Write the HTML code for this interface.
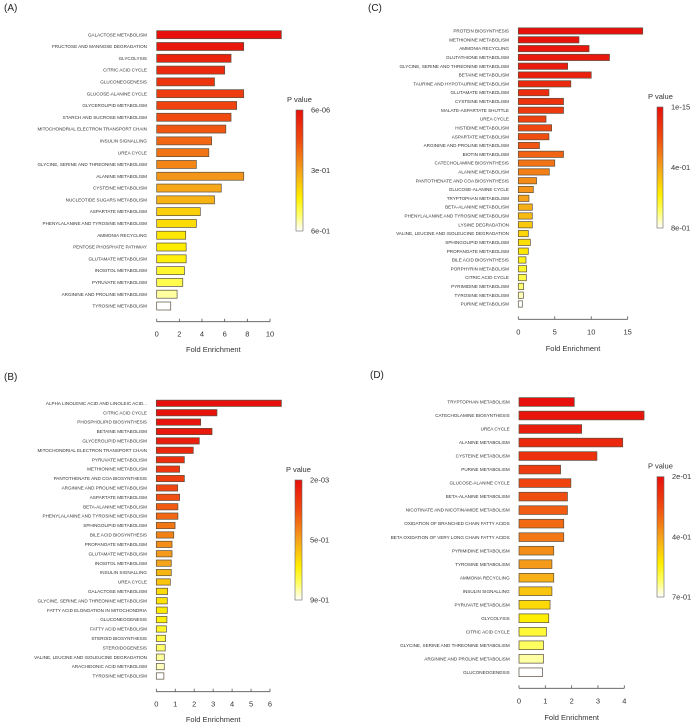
<!DOCTYPE html>
<html><head><meta charset="utf-8">
<style>
html,body{margin:0;padding:0;background:#fff;}
svg{display:block;font-family:"Liberation Sans",Arial,sans-serif;}
</style></head>
<body>
<svg id="chart" width="700" height="724" viewBox="0 0 700 724" xmlns="http://www.w3.org/2000/svg">
<defs>
<linearGradient id="heat" x1="0" y1="0" x2="0" y2="1">
<stop offset="0" stop-color="#e8100c"/><stop offset="0.25" stop-color="#f04a10"/><stop offset="0.5" stop-color="#f5a21a"/><stop offset="0.72" stop-color="#ffee00"/><stop offset="0.86" stop-color="#ffff60"/><stop offset="1" stop-color="#ffffff"/>
</linearGradient>
</defs>
</svg>
<script>
// ---- Panel A data ----
const catsA = ["GALACTOSE METABOLISM","FRUCTOSE AND MANNOSE DEGRADATION","GLYCOLYSIS","CITRIC ACID CYCLE","GLUCONEOGENESIS","GLUCOSE-ALANINE CYCLE","GLYCEROLIPID METABOLISM","STARCH AND SUCROSE METABOLISM","MITOCHONDRIAL ELECTRON TRANSPORT CHAIN","INSULIN SIGNALLING","UREA CYCLE","GLYCINE, SERINE AND THREONINE METABOLISM","ALANINE METABOLISM","CYSTEINE METABOLISM","NUCLEOTIDE SUGARS METABOLISM","ASPARTATE METABOLISM","PHENYLALANINE AND TYROSINE METABOLISM","AMMONIA RECYCLING","PENTOSE PHOSPHATE PATHWAY","GLUTAMATE METABOLISM","INOSITOL METABOLISM","PYRUVATE METABOLISM","ARGININE AND PROLINE METABOLISM","TYROSINE METABOLISM"];
const valsA = [11.0,7.68,6.56,6.0,5.1,7.68,7.06,6.56,6.1,4.85,4.6,3.5,7.68,5.7,5.1,3.85,3.5,2.56,2.6,2.6,2.45,2.3,1.8,1.24];
const pvalsA = [0.00001,0.02,0.05,0.07,0.09,0.11,0.13,0.15,0.17,0.2,0.22,0.25,0.28,0.31,0.33,0.38,0.4,0.42,0.43,0.44,0.47,0.5,0.55,0.6];
const ticksA = [0,2,4,6,8,10];
const legendA = ["6e-06","3e-01","6e-01"];
const pRangeA = [0.000006,0.6];

// ---- Panel B data ----
const catsB = ["ALPHA LINOLENIC ACID AND LINOLEIC ACID...","CITRIC ACID CYCLE","PHOSPHOLIPID BIOSYNTHESIS","BETAINE METABOLISM","GLYCEROLIPID METABOLISM","MITOCHONDRIAL ELECTRON TRANSPORT CHAIN","PYRUVATE METABOLISM","METHIONINE METABOLISM","PANTOTHENATE AND COA BIOSYNTHESIS","ARGININE AND PROLINE METABOLISM","ASPARTATE METABOLISM","BETA-ALANINE METABOLISM","PHENYLALANINE AND TYROSINE METABOLISM","SPHINGOLIPID METABOLISM","BILE ACID BIOSYNTHESIS","PROPANOATE METABOLISM","GLUTAMATE METABOLISM","INOSITOL METABOLISM","INSULIN SIGNALLING","UREA CYCLE","GALACTOSE METABOLISM","GLYCINE, SERINE AND THREONINE METABOLISM","FATTY ACID ELONGATION IN MITOCHONDRIA","GLUCONEOGENESIS","FATTY ACID METABOLISM","STEROID BIOSYNTHESIS","STEROIDOGENESIS","VALINE, LEUCINE AND ISOLEUCINE DEGRADATION","ARACHIDONIC ACID METABOLISM","TYROSINE METABOLISM"];
const valsB = [6.6,3.2,2.34,2.94,2.27,1.95,1.48,1.23,1.48,1.13,1.23,1.14,1.14,0.99,0.92,0.83,0.83,0.79,0.79,0.74,0.6,0.58,0.58,0.56,0.53,0.49,0.47,0.42,0.42,0.4];
const pvalsB = [0.002,0.01,0.02,0.04,0.06,0.09,0.12,0.15,0.18,0.21,0.24,0.27,0.3,0.34,0.37,0.4,0.43,0.46,0.5,0.54,0.6,0.62,0.64,0.66,0.7,0.74,0.78,0.82,0.85,0.9];
const ticksB = [0,1,2,3,4,5,6];
const legendB = ["2e-03","5e-01","9e-01"];
const pRangeB = [0.002,0.9];

// ---- Panel C data ----
const catsC = ["PROTEIN BIOSYNTHESIS","METHIONINE METABOLISM","AMMONIA RECYCLING","GLUTATHIONE METABOLISM","GLYCINE, SERINE AND THREONINE METABOLISM","BETAINE METABOLISM","TAURINE AND HYPOTAURINE METABOLISM","GLUTAMATE METABOLISM","CYSTEINE METABOLISM","MALATE-ASPARTATE SHUTTLE","UREA CYCLE","HISTIDINE METABOLISM","ASPARTATE METABOLISM","ARGININE AND PROLINE METABOLISM","BIOTIN METABOLISM","CATECHOLAMINE BIOSYNTHESIS","ALANINE METABOLISM","PANTOTHENATE AND COA BIOSYNTHESIS","GLUCOSE-ALANINE CYCLE","TRYPTOPHAN METABOLISM","BETA-ALANINE METABOLISM","PHENYLALANINE AND TYROSINE METABOLISM","LYSINE DEGRADATION","VALINE, LEUCINE AND ISOLEUCINE DEGRADATION","SPHINGOLIPID METABOLISM","PROPANOATE METABOLISM","BILE ACID BIOSYNTHESIS","PORPHYRIN METABOLISM","CITRIC ACID CYCLE","PYRIMIDINE METABOLISM","TYROSINE METABOLISM","PURINE METABOLISM"];
const valsC = [17.06,8.32,9.7,12.5,6.77,10.0,7.2,4.2,6.2,6.2,3.8,4.57,4.2,2.9,6.2,5.0,4.25,2.5,2.06,1.46,1.92,1.92,1.92,1.37,1.65,1.37,1.05,1.14,1.1,0.73,0.69,0.55];
const pvalsC = [0,0.01,0.02,0.03,0.04,0.06,0.08,0.1,0.12,0.14,0.17,0.19,0.21,0.23,0.26,0.29,0.32,0.35,0.37,0.4,0.43,0.46,0.49,0.52,0.54,0.56,0.6,0.63,0.66,0.7,0.75,0.8];
const ticksC = [0,5,10,15];
const legendC = ["1e-15","4e-01","8e-01"];
const pRangeC = [0,0.8];

// ---- Panel D data ----
const catsD = ["TRYPTOPHAN METABOLISM","CATECHOLAMINE BIOSYNTHESIS","UREA CYCLE","ALANINE METABOLISM","CYSTEINE METABOLISM","PURINE METABOLISM","GLUCOSE-ALANINE CYCLE","BETA-ALANINE METABOLISM","NICOTINATE AND NICOTINAMIDE METABOLISM","OXIDATION OF BRANCHED CHAIN FATTY ACIDS","BETA OXIDATION OF VERY LONG CHAIN FATTY ACIDS","PYRIMIDINE METABOLISM","TYROSINE METABOLISM","AMMONIA RECYCLING","INSULIN SIGNALLING","PYRUVATE METABOLISM","GLYCOLYSIS","CITRIC ACID CYCLE","GLYCINE, SERINE AND THREONINE METABOLISM","ARGININE AND PROLINE METABOLISM","GLUCONEOGENESIS"];
const valsD = [2.1,4.75,2.38,3.94,2.96,1.58,1.97,1.84,1.84,1.7,1.7,1.32,1.25,1.32,1.25,1.18,1.13,1.04,0.93,0.93,0.89];
const pvalsD = [0.2,0.21,0.23,0.25,0.27,0.29,0.31,0.33,0.35,0.37,0.39,0.42,0.44,0.47,0.5,0.53,0.56,0.6,0.63,0.66,0.7];
const ticksD = [0,1,2,3,4];
const legendD = ["2e-01","4e-01","7e-01"];
const pRangeD = [0.2,0.7];

const NS = "http://www.w3.org/2000/svg";
const svg = document.getElementById("chart");
const stops = [[0,[232,16,12]],[0.25,[240,74,16]],[0.5,[245,162,26]],[0.72,[255,238,0]],[0.86,[255,255,96]],[1,[255,255,255]]];
function heat(t){
  t=Math.max(0,Math.min(1,t));
  for(let i=1;i<stops.length;i++){
    if(t<=stops[i][0]){
      const a=stops[i-1],b=stops[i],f=(t-a[0])/(b[0]-a[0]);
      const c=a[1].map((v,k)=>Math.round(v+(b[1][k]-v)*f));
      return "rgb("+c.join(",")+")";
    }
  }
  return "#fff";
}
function mk(tag, attrs, parent){
  const e=document.createElementNS(NS,tag);
  for(const k in attrs) e.setAttribute(k,attrs[k]);
  (parent||svg).appendChild(e);
  return e;
}
function panel(letter, cats, vals, pvals, ticks, legend, pRange, g){
  const grp=mk("g",{});
  
  
  const t=mk("text",{x:g.lx,y:g.ly,"font-size":10,fill:"#222"},grp);
  t.textContent="("+letter+")";
  
  
  const xs=v=>g.x0+(v-ticks[0])/(ticks[ticks.length-1]-ticks[0])*(g.x1-g.x0);
  const ys=i=>g.y0+i*(g.y1-g.y0)/(cats.length-1);
  cats.forEach((c,i)=>{
    const y=ys(i);
    const r=mk("rect",{x:xs(0),y:y-g.bh/2,width:xs(vals[i])-xs(0),height:g.bh,
      fill:heat((pvals[i]-pRange[0])/(pRange[1]-pRange[0])),stroke:"#5a5040","stroke-width":0.7},grp);
    
    
    const l=mk("text",{x:g.labR,y:y+1.6,"font-size":4.6,"text-anchor":"end",fill:"#333"},grp);
    l.textContent=c;
    
    
  });
  const ax=mk("line",{x1:xs(ticks[0]),x2:xs(ticks[ticks.length-1]),y1:g.ay,y2:g.ay,stroke:"#555","stroke-width":0.8},grp);
  
  
  ticks.forEach(v=>{
    mk("line",{x1:xs(v),x2:xs(v),y1:g.ay,y2:g.ay-3,stroke:"#555","stroke-width":0.8},grp);
    const tl=mk("text",{x:xs(v),y:g.ay+15,"font-size":7.5,"text-anchor":"middle",fill:"#333"},grp);
    tl.textContent=v;
    
    
  });
  const xt=mk("text",{x:(xs(ticks[0])+xs(ticks[ticks.length-1]))/2,y:g.ty,"font-size":7.5,"text-anchor":"middle",fill:"#333"},grp);
  xt.textContent="Fold Enrichment";
  
  
  const lt=mk("text",{x:g.gx-9,y:g.gy0-8,"font-size":7.5,fill:"#333"},grp);
  lt.textContent="P value";
  
  
  const lr=mk("rect",{x:g.gx,y:g.gy0,width:g.gw,height:g.gy1-g.gy0,fill:"url(#heat)",stroke:"#666","stroke-width":0.6},grp);
  
  
  legend.forEach((s,i)=>{
    const y=g.gy0+i*(g.gy1-g.gy0)/(legend.length-1);
    const e=mk("text",{x:g.gx+g.gw+8,y:y+2.5,"font-size":7.5,fill:"#333"},grp);
    e.textContent=s;
    
    
  });
}
panel("A",catsA,valsA,pvalsA,ticksA,legendA,pRangeA,
  {lx:4,ly:11,x0:156.7,x1:270,y0:34.7,y1:306,bh:8,labR:147,ay:321.7,ty:352,gx:296,gw:7,gy0:110,gy1:231});
panel("B",catsB,valsB,pvalsB,ticksB,legendB,pRangeB,
  {lx:4,ly:380,x0:156.3,x1:270,y0:403.3,y1:676,bh:6.3,labR:147,ay:691.7,ty:722,gx:295,gw:7,gy0:480,gy1:600});
panel("C",catsC,valsC,pvalsC,ticksC,legendC,pRangeC,
  {lx:368,ly:11,x0:518.3,x1:627.7,y0:31,y1:304,bh:6.3,labR:509,ay:319.3,ty:351,gx:657,gw:6,gy0:107,gy1:228});
panel("D",catsD,valsD,pvalsD,ticksD,legendD,pRangeD,
  {lx:370,ly:378,x0:519,x1:624.3,y0:402,y1:672.3,bh:8.7,labR:509.7,ay:688.3,ty:720,gx:657,gw:7,gy0:476.7,gy1:597});
</script>
</body></html>
